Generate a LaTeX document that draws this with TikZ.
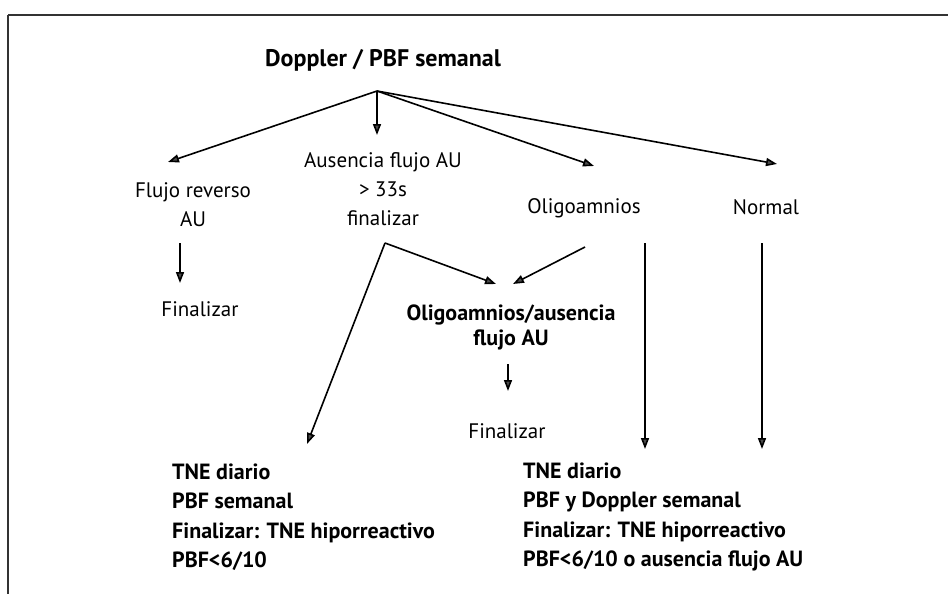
\documentclass[tikz,border=0pt]{standalone}
\usepackage{fontspec}
\setmainfont{PT Sans}
\usetikzlibrary{arrows.meta}
\begin{document}
\begin{tikzpicture}[x=1pt,y=-1pt,
  lbl/.style={align=center,inner sep=0pt,font=\fontsize{21}{29}\selectfont},
  blbl/.style={align=center,inner sep=0pt,font=\bfseries\fontsize{22}{25}\selectfont},
  blist/.style={align=left,anchor=west,inner sep=0pt,font=\bfseries\fontsize{22}{29.5}\selectfont},
  conn/.style={line width=1.6pt,-{Triangle[length=11pt,width=8pt,fill=gray!60!black]}},
  frameline/.style={line width=1.3pt,black!80}]
\useasboundingbox (0,0) rectangle (948,594);
\fill[white] (0,0) rectangle (948,594);
% frame
\draw[frameline] (8,15) -- (948,15);
\draw[frameline] (8,15) -- (8,594);
% nodes
\node[blbl,font=\bfseries\fontsize{24}{28}\selectfont] (title) at (383,60) {Doppler / PBF semanal};
\node[lbl] (rev) at (193,205) {Flujo reverso\\AU};
\node[lbl] (aus) at (383,189) {Ausencia flujo AU\\> 33s\\finalizar};
\node[lbl] (oli) at (584,208) {Oligoamnios};
\node[lbl] (nor) at (766,207) {Normal};
\node[lbl] (fin1) at (200,309) {Finalizar};
\node[blbl] (olaus) at (511,327) {Oligoamnios/ausencia\\flujo AU};
\node[lbl] (fin2) at (507,431) {Finalizar};
\node[blist] (left) at (172,517) {TNE diario\\PBF semanal\\Finalizar: TNE hiporreactivo\\PBF<6/10};
\node[blist] (right) at (523,517) {TNE diario\\PBF y Doppler semanal\\Finalizar: TNE hiporreactivo\\PBF<6/10 o ausencia flujo AU};
% connector points
\coordinate (apex) at (377,91);
\coordinate (t1) at (168,162);
\coordinate (t2) at (377,135);
\coordinate (t3) at (594,166);
\coordinate (t4) at (777,164);
\coordinate (r1) at (180,243);
\coordinate (r2) at (180,283);
\coordinate (p) at (385,243);
\coordinate (m1) at (496,284);
\coordinate (o1) at (585,247);
\coordinate (m2) at (513,284);
\coordinate (lt) at (307,444);
\coordinate (v1a) at (645,243);
\coordinate (v1b) at (645,449);
\coordinate (v2a) at (762,243);
\coordinate (v2b) at (762,449);
\coordinate (f2a) at (508,364);
\coordinate (f2b) at (508,391);
% connectors
\draw[conn] (apex) -- (t1);
\draw[conn] (apex) -- (t2);
\draw[conn] (apex) -- (t3);
\draw[conn] (apex) -- (t4);
\draw[conn] (r1) -- (r2);
\draw[conn] (p) -- (m1);
\draw[conn] (o1) -- (m2);
\draw[conn] (p) -- (lt);
\draw[conn] (v1a) -- (v1b);
\draw[conn] (v2a) -- (v2b);
\draw[conn] (f2a) -- (f2b);
\end{tikzpicture}
\end{document}
